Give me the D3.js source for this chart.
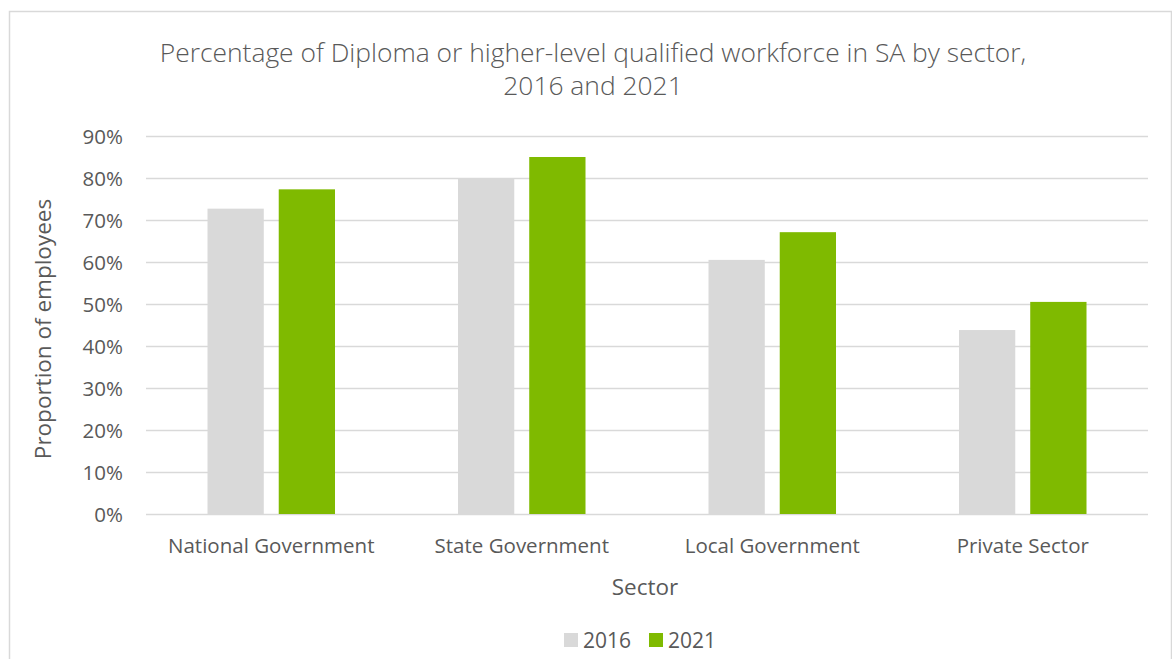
<!DOCTYPE html>
<html>
<head>
<meta charset="utf-8">
<script src="https://cdn.jsdelivr.net/npm/d3@7"></script>
<style>
  body { margin: 0; background: #fff; }
  text { font-family: "Open Sans", "Noto Sans", sans-serif; fill: #595959; }
</style>
</head>
<body>
<div id="chart"></div>
<script>
"use strict";
(function(){
    // data
    const sectors = ["National Government", "State Government", "Local Government", "Private Sector"];
    const years = ["2016", "2021"];
    const values2016 = [0.727, 0.800, 0.605, 0.438];
    const values2021 = [0.773, 0.850, 0.671, 0.505];
    const yTicks = [0, 0.1, 0.2, 0.3, 0.4, 0.5, 0.6, 0.7, 0.8, 0.9];
    const titleLines = ["Percentage of Diploma or higher-level qualified workforce in SA by sector,", "2016 and 2021"];

    const colors = { "2016": "#D9D9D9", "2021": "#7FBA00" };

    const measurements = {
        width: 1172,
        height: 659,
        plotLeft: 146,
        plotRight: 1148,
        plotTop: 136,
        plotBottom: 514
    };

    const svg = d3.select("#chart").append("svg")
        .attr("width", measurements.width)
        .attr("height", measurements.height);

    // chart area border
    svg.append("rect")
        .attr("x", 9.5)
        .attr("y", 11.5)
        .attr("width", 1162)
        .attr("height", 700)
        .attr("fill", "none")
        .attr("stroke", "#D9D9D9")
        .attr("stroke-width", 1.5);

    const rows = sectors.map((s, i) => ({ sector: s, "2016": values2016[i], "2021": values2021[i] }));

    const x0 = d3.scaleBand()
        .domain(sectors)
        .range([measurements.plotLeft, measurements.plotRight])
        .paddingInner(0.491)
        .paddingOuter(0.2455);

    const x1 = d3.scaleBand()
        .domain(years)
        .range([0, x0.bandwidth()])
        .paddingInner(0.21);

    const y = d3.scaleLinear()
        .domain([0, 0.9])
        .range([measurements.plotBottom, measurements.plotTop]);

    // gridlines
    const yAxis = d3.axisLeft(y)
        .tickValues(yTicks)
        .tickSize(-(measurements.plotRight - measurements.plotLeft))
        .tickPadding(23)
        .tickFormat(d3.format(".0%"));

    const gy = svg.append("g")
        .attr("transform", "translate(" + measurements.plotLeft + ",0)")
        .call(yAxis);
    gy.select(".domain").remove();
    gy.selectAll(".tick line").attr("stroke", "#D9D9D9").attr("stroke-width", 1.5);
    gy.selectAll(".tick text").style("font-size", "20.5px").attr("dy", "0.35em");

    // bars
    const groups = svg.selectAll(".group")
        .data(rows)
        .enter().append("g")
        .attr("class", "group")
        .attr("transform", d => "translate(" + x0(d.sector) + ",0)");

    groups.selectAll("rect")
        .data(d => years.map(yr => ({ year: yr, value: d[yr] })))
        .enter().append("rect")
        .attr("x", d => x1(d.year))
        .attr("y", d => y(d.value))
        .attr("width", x1.bandwidth())
        .attr("height", d => y(0) - y(d.value))
        .attr("fill", d => colors[d.year]);

    // x axis labels
    const xAxis = d3.axisBottom(x0).tickSize(0).tickPadding(24);
    const gx = svg.append("g")
        .attr("transform", "translate(0," + measurements.plotBottom + ")")
        .call(xAxis);
    gx.select(".domain").remove();
    gx.selectAll(".tick text").style("font-size", "20.5px");

    // title
    svg.append("text")
        .attr("x", 593)
        .attr("y", 62)
        .style("text-anchor", "middle")
        .style("font-size", "26.4px")
        .style("font-weight", 300)
        .selectAll("tspan")
        .data(titleLines)
        .enter().append("tspan")
        .attr("x", 593)
        .attr("dy", (d, i) => i === 0 ? 0 : 33)
        .text(d => d);

    // axis titles
    svg.append("text")
        .attr("x", 645)
        .attr("y", 595)
        .style("text-anchor", "middle")
        .style("font-size", "22.5px")
        .text("Sector");

    svg.append("text")
        .attr("transform", "translate(51,329) rotate(-90)")
        .style("text-anchor", "middle")
        .style("font-size", "22.5px")
        .text("Proportion of employees");

    // legend
    const legendX = [564, 649];
    const legend = svg.selectAll(".legend")
        .data(years)
        .enter().append("g")
        .attr("class", "legend")
        .attr("transform", (d, i) => "translate(" + legendX[i] + ",633)");

    legend.append("rect")
        .attr("width", 14)
        .attr("height", 14)
        .attr("fill", d => colors[d]);

    legend.append("text")
        .attr("x", 19)
        .attr("y", 14.5)
        .style("font-size", "21px")
        .text(d => d);
})()
</script>
</body>
</html>
